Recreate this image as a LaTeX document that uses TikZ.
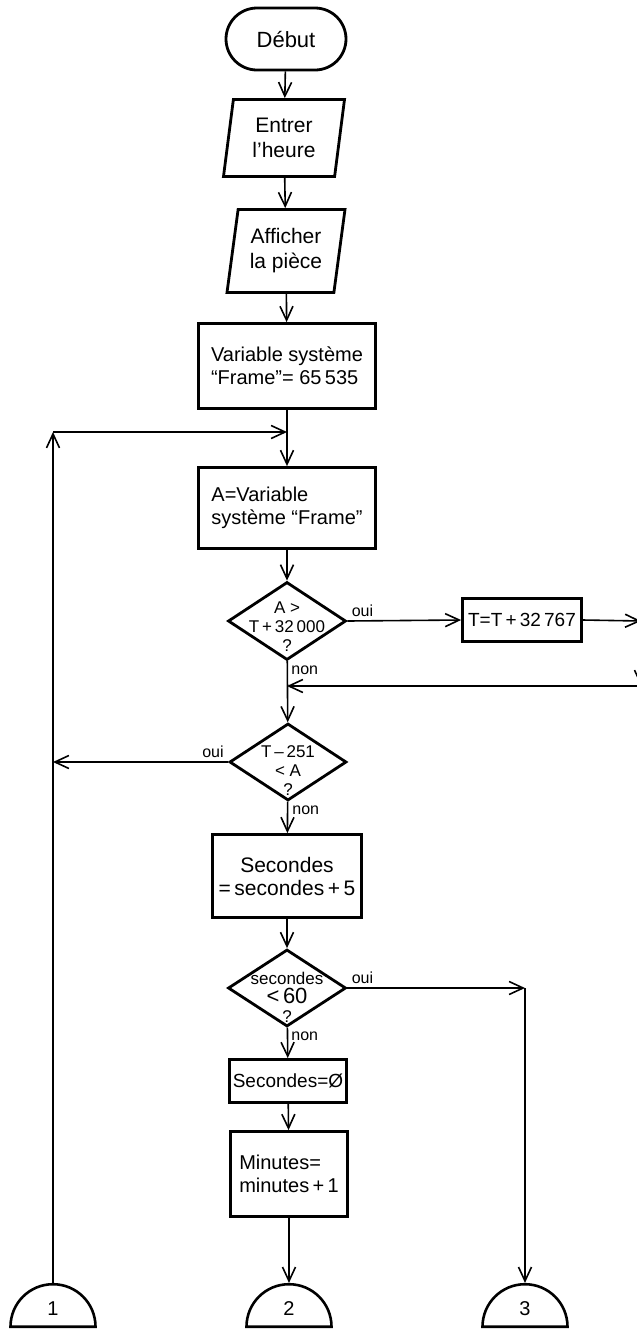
\documentclass[tikz,border=0pt]{standalone}
\usepackage{fontspec}
\setmainfont{Liberation Sans}
\usetikzlibrary{shapes.geometric,shapes.misc,arrows.meta}

\tikzset{
	flow/.style={line width=0.8pt,-{Straight Barb[length=7pt,width=6.5pt,line width=0.8pt]}},
	term/.style={draw,line width=1.4pt,rounded rectangle,minimum width=60pt,minimum height=31pt,inner sep=0pt,font=\fontsize{11}{12}\selectfont},
	io/.style={draw,line width=1.4pt,trapezium,trapezium left angle=76,trapezium right angle=104,trapezium stretches body,inner sep=0pt,align=center,font=\fontsize{10.5}{12.5}\selectfont},
	box/.style={draw,line width=1.4pt,rectangle,inner sep=0pt,font=\fontsize{10}{11.5}\selectfont},
	decision/.style={draw,line width=1.4pt,diamond,minimum width=59pt,minimum height=39pt,inner sep=0pt},
	dtext/.style={align=center,inner sep=0pt,font=\fontsize{8.5}{9.5}\selectfont},
	lbl/.style={inner sep=2pt,font=\fontsize{8}{9}\selectfont},
	conn/.style={draw,line width=1.3pt,semicircle,minimum width=42.5pt,inner sep=0pt,font=\fontsize{10}{12}\selectfont}
}

\begin{document}
\begin{tikzpicture}[x=0.5pt,y=-0.5pt]

	\useasboundingbox (0,0) rectangle (637,1330);

	% main column
	\node[term] (deb) at (286,39) {Début};
	\node[io,minimum width=60.5pt,minimum height=38.5pt] (ent) at (284,138) {Entrer\\l’heure};
	\node[io,minimum width=59pt,minimum height=41.5pt] (aff) at (286,251) {Afficher\\la pièce};
	\node[box,minimum width=88.5pt,minimum height=42.5pt,align=left] (var) at (287,366) {Variable système\\“Frame”= 65\,535};
	\node[box,minimum width=88.5pt,minimum height=40.5pt,align=left] (a) at (287,508) {A=Variable\\système “Frame”};

	\node[decision] (d1) at (287,621) {};
	\node[dtext,yshift=-3pt] (d1t) at (d1) {A >\\T\,+\,32\,000\\?};
	\node[box,minimum width=59.5pt,minimum height=21.5pt,font=\fontsize{9.5}{11}\selectfont] (tbox) at (522,620) {T=T\,+\,32\,767};

	\node[decision,minimum width=58.5pt,minimum height=38.5pt] (d2) at (288,762) {};
	\node[dtext,yshift=-4.5pt] (d2t) at (d2) {T\,–\,251\\< A\\?};

	\node[box,minimum width=74.5pt,minimum height=41.5pt,align=center,font=\fontsize{10.5}{11.5}\selectfont] (sec) at (287,876) {Secondes\\=\,secondes\,+\,5};

	\node[decision,minimum height=38.5pt] (d3) at (287,988) {};
	\node[dtext,yshift=-4.5pt] (d3t) at (d3) {secondes\\{\fontsize{11}{10}\selectfont <\,60}\\?};

	\node[box,minimum width=58.5pt,minimum height=21.5pt,font=\fontsize{9.5}{11}\selectfont] (sz) at (288,1081) {Secondes=Ø};
	\node[box,minimum width=58.5pt,minimum height=42.5pt,align=left] (min) at (289,1174) {Minutes=\\minutes\,+\,1};

	% connectors
	\node[conn,anchor=south] (c1) at (53,1328) {1};
	\node[conn,anchor=south] (c2) at (289,1328) {2};
	\node[conn,anchor=south] (c3) at (525,1328) {3};

	% corners
	\coordinate (tl) at (53,432);
	\coordinate (j1) at (287,432);
	\coordinate (rt) at (641,621);
	\coordinate (rb) at (641,686);
	\coordinate (j2) at (287,686);
	\coordinate (tr) at (525,988);

	\draw[flow] (deb) -- (ent);
	\draw[flow] (ent) -- (aff);
	\draw[flow] (aff) -- (var);
	\draw[flow] (var) -- (a);
	\draw[flow] (a) -- (d1);
	\draw[flow] (d1) -- (d2);
	\draw[flow] (d2) -- (sec);
	\draw[flow] (sec) -- (d3);
	\draw[flow] (d3) -- (sz);
	\draw[flow] (sz) -- (min);
	\draw[flow] (min) -- (c2);

	% loop back to A
	\draw[flow] (c1.north) -- (tl);
	\draw[flow] (tl) -- (j1);
	\draw[flow] (d2.west) -- (d2.west -| tl);

	% T correction
	\draw[flow] (d1.east) -- (tbox.west);
	\draw[flow] (tbox.east) -- (rt);
	\draw[flow] (rt) -- (rb);
	\draw[flow] (rb) -- (j2);

	% seconds < 60
	\draw[flow] (d3.east) -- (tr);
	\draw[flow] (tr) -- (c3.north);

	% labels
	\node[lbl,anchor=south west] at (d1.east) {oui};
	\node[lbl,anchor=north west] at (d1.south) {non};
	\node[lbl,anchor=south east] at (d2.west) {oui};
	\node[lbl,anchor=north west] at (d2.south) {non};
	\node[lbl,anchor=south west] at (d3.east) {oui};
	\node[lbl,anchor=north west] at (d3.south) {non};

\end{tikzpicture}
\end{document}
